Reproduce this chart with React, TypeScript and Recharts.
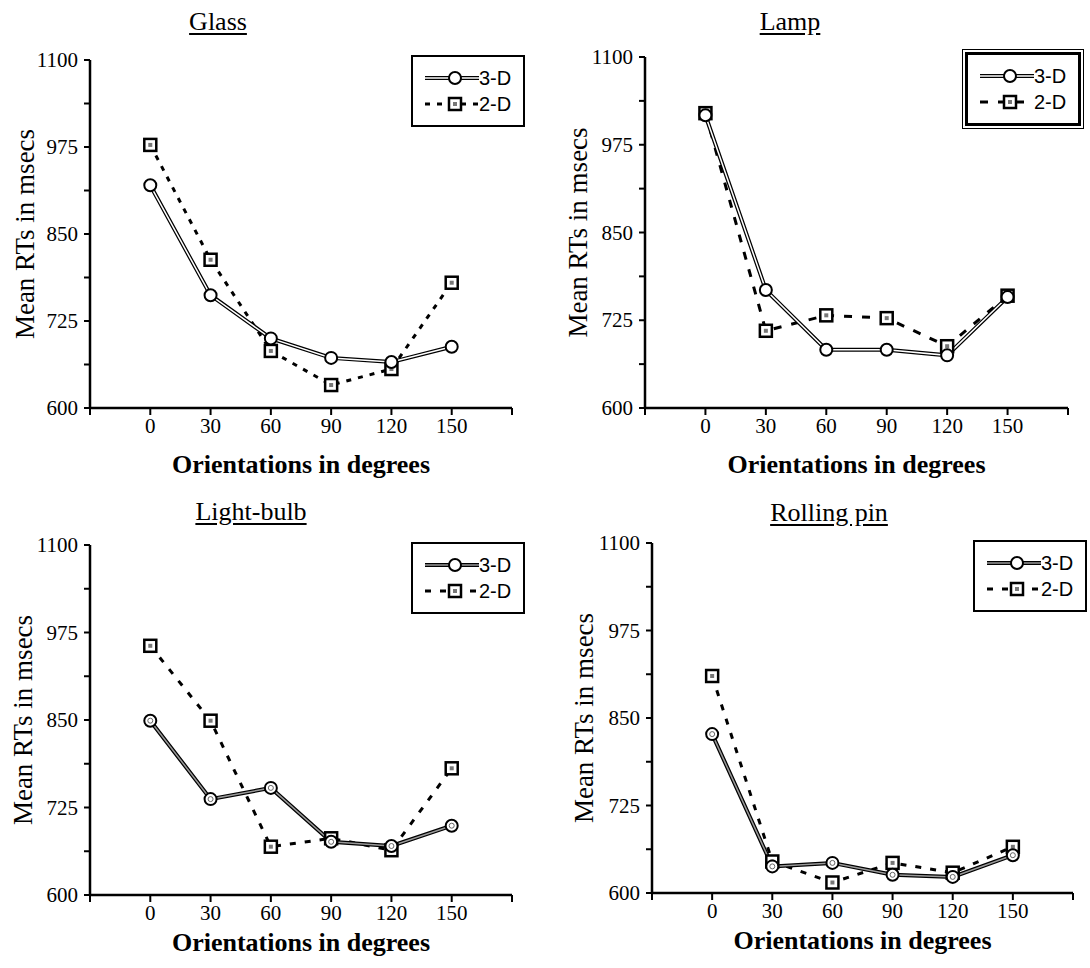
import React from "react";
import { LineChart, Line, XAxis, YAxis, Legend } from "recharts";

// orientation (degrees) on the x axis
const angles = [0, 30, 60, 90, 120, 150];

// mean RTs (msecs)
const glass3D = [920, 762, 700, 672, 666, 688];
const glass2D = [978, 813, 682, 633, 656, 780];
const lamp3D = [1017, 768, 683, 683, 675, 758];
const lamp2D = [1020, 710, 732, 728, 688, 760];
const bulb3D = [849, 737, 753, 676, 670, 699];
const bulb2D = [956, 849, 669, 681, 664, 781];
const pin3D = [827, 638, 643, 626, 623, 654];
const pin2D = [910, 645, 615, 643, 629, 666];

const yTicks = [600, 662.5, 725, 787.5, 850, 912.5, 975, 1037.5, 1100];
const yLabels = [600, 725, 850, 975, 1100];
const xTicks = [-30, 0, 30, 60, 90, 120, 150, 180];

const SERIF = "'Liberation Serif', 'Times New Roman', serif";
const SANS = "'Liberation Sans', Arial, sans-serif";

function rows(a: number[], b: number[]) {
  return angles.map((x, i) => ({ angle: x, d3: a[i], d2: b[i] }));
}

function XTick({ x, y, payload }: any) {
  const v = payload.value;
  if (v < 0 || v > 150) return null;
  return (
    <text x={x} y={y + 16} textAnchor="middle" style={{ fontFamily: SERIF, fontSize: 21, fill: "#000" }}>
      {v}
    </text>
  );
}

function YTick({ x, y, payload }: any) {
  const v = payload.value;
  if (!yLabels.includes(v)) return null;
  return (
    <text x={x} y={y + 7} textAnchor="end" style={{ fontFamily: SERIF, fontSize: 21, fill: "#000" }}>
      {v}
    </text>
  );
}

function CircleDot(props: any) {
  const { cx, cy, index, inner } = props;
  if (cx == null || cy == null) return null;
  return (
    <g key={"c" + index}>
      <circle cx={cx} cy={cy} r={6} fill="#fff" stroke="#000" strokeWidth={2} />
      {inner && <circle cx={cx} cy={cy} r={2.5} fill="none" stroke="#666" strokeWidth={1} />}
    </g>
  );
}

function SquareDot(props: any) {
  const { cx, cy, index } = props;
  if (cx == null || cy == null) return null;
  return (
    <g key={"s" + index}>
      <rect x={cx - 6} y={cy - 6} width={12} height={12} fill="#fff" stroke="#000" strokeWidth={2.5} />
      <rect x={cx - 2} y={cy - 2} width={4} height={4} fill="#777" />
    </g>
  );
}

function LegendBox({ dash, inner, double }: { dash: string; inner: string; double?: boolean }) {
  const row = { display: "flex", alignItems: "center", height: 26 } as const;
  return (
    <div
      style={{
        border: double ? "3px solid #000" : "2px solid #000",
        outline: double ? "1px solid #000" : undefined,
        outlineOffset: double ? 2 : undefined,
        background: "#fff",
        padding: "8px 12px 8px 12px",
        fontFamily: SANS,
        fontSize: 20,
        color: "#000",
        lineHeight: 1,
      }}
    >
      <div style={row}>
        <svg width={54} height={16}>
          <line x1={0} y1={8} x2={54} y2={8} stroke="#000" strokeWidth={4} />
          <line x1={0} y1={8} x2={54} y2={8} stroke={inner} strokeWidth={1.5} />
          <circle cx={30} cy={8} r={6} fill="#fff" stroke="#000" strokeWidth={2} />
        </svg>
        <span>3-D</span>
      </div>
      <div style={row}>
        <svg width={54} height={16}>
          <line x1={0} y1={8} x2={54} y2={8} stroke="#000" strokeWidth={3} strokeDasharray={dash} />
          <rect x={24} y={2} width={12} height={12} fill="#fff" stroke="#000" strokeWidth={2.5} />
          <rect x={28} y={6} width={4} height={4} fill="#777" />
        </svg>
        <span>2-D</span>
      </div>
    </div>
  );
}

type PanelProps = {
  title: string;
  d3: number[];
  d2: number[];
  left: number;
  top: number;
  yWidth: number;
  plotTop: number;
  xHeight: number;
  right: number;
  yLabelX: number;
  xLabelOffset: number;
  titleX: number;
  titleY: number;
  legendX: number;
  legendY: number;
  dash: string;
  inner: string;
  double?: boolean;
};

function Panel(p: PanelProps) {
  const data = rows(p.d3, p.d2);
  return (
    <div style={{ position: "absolute", left: p.left, top: p.top, width: 545, height: 484 }}>
      <div
        style={{
          position: "absolute",
          left: p.titleX - 100,
          width: 200,
          top: p.titleY - 15,
          textAlign: "center",
          fontFamily: SERIF,
          fontSize: 26,
          textDecoration: "underline",
          textUnderlineOffset: 3,
          lineHeight: "30px",
          color: "#000",
        }}
      >
        {p.title}
      </div>
      <LineChart
        width={545}
        height={484}
        data={data}
        margin={{ top: p.plotTop, right: p.right, left: 0, bottom: 0 }}
      >
        <XAxis
          dataKey="angle"
          type="number"
          domain={[-30, 180]}
          ticks={xTicks}
          interval={0}
          height={p.xHeight}
          tick={<XTick />}
          tickSize={7}
          axisLine={{ stroke: "#000", strokeWidth: 2.5 }}
          tickLine={{ stroke: "#000", strokeWidth: 2 }}
          label={(lp: any) => {
            const vb = lp.viewBox;
            return (
              <text
                x={vb.x + vb.width / 2}
                y={vb.y + p.xLabelOffset}
                textAnchor="middle"
                style={{ fontFamily: SERIF, fontSize: 26, fontWeight: 700, fill: "#000" }}
              >
                Orientations in degrees
              </text>
            );
          }}
        />
        <YAxis
          type="number"
          domain={[600, 1100]}
          ticks={yTicks}
          interval={0}
          width={p.yWidth}
          tick={<YTick />}
          tickSize={6}
          tickMargin={6}
          axisLine={{ stroke: "#000", strokeWidth: 2.5 }}
          tickLine={{ stroke: "#000", strokeWidth: 2 }}
          label={(lp: any) => {
            const vb = lp.viewBox;
            const cy = vb.y + vb.height / 2;
            const cx = vb.x + p.yLabelX;
            return (
              <text
                x={cx}
                y={cy}
                dy={9}
                textAnchor="middle"
                transform={`rotate(-90 ${cx} ${cy})`}
                style={{ fontFamily: SERIF, fontSize: 27, fill: "#000" }}
              >
                Mean RTs in msecs
              </text>
            );
          }}
        />
        <Legend
          layout="vertical"
          align="center"
          verticalAlign="middle"
          wrapperStyle={{ left: p.legendX, top: p.legendY, width: "auto" }}
          content={() => <LegendBox dash={p.dash} inner={p.inner} double={p.double} />}
        />
        <Line
          dataKey="d2"
          stroke="#000"
          strokeWidth={3}
          strokeDasharray={p.dash}
          dot={(d: any) => <SquareDot {...d} />}
          isAnimationActive={false}
        />
        <Line dataKey="d3" stroke="#000" strokeWidth={4} dot={false} isAnimationActive={false} legendType="none" />
        <Line
          dataKey="d3"
          stroke={p.inner}
          strokeWidth={1.5}
          dot={(d: any) => <CircleDot {...d} inner={p.inner !== "#fff"} />}
          isAnimationActive={false}
        />
      </LineChart>
    </div>
  );
}

export default function App() {
  return (
    <div
      style={{
        position: "absolute",
        left: 0,
        top: 0,
        width: 1090,
        height: 968,
        overflow: "hidden",
        background: "#fff",
      }}
    >
      <Panel
        title="Glass"
        d3={glass3D}
        d2={glass2D}
        left={0}
        top={0}
        yWidth={90}
        plotTop={60}
        xHeight={76}
        right={33}
        yLabelX={25}
        xLabelOffset={65}
        titleX={218}
        titleY={22}
        legendX={411}
        legendY={55}
        dash="5 7"
        inner="#fff"
      />
      <Panel
        title="Lamp"
        d3={lamp3D}
        d2={lamp2D}
        left={545}
        top={0}
        yWidth={100}
        plotTop={57}
        xHeight={76}
        right={22}
        yLabelX={33}
        xLabelOffset={65}
        titleX={245}
        titleY={22}
        legendX={420}
        legendY={52}
        dash="8 10"
        inner="#fff"
        double
      />
      <Panel
        title="Light-bulb"
        d3={bulb3D}
        d2={bulb2D}
        left={0}
        top={484}
        yWidth={90}
        plotTop={61}
        xHeight={73}
        right={33}
        yLabelX={23}
        xLabelOffset={56}
        titleX={251}
        titleY={28}
        legendX={411}
        legendY={58}
        dash="6 9"
        inner="#999"
      />
      <Panel
        title="Rolling pin"
        d3={pin3D}
        d2={pin2D}
        left={545}
        top={484}
        yWidth={107}
        plotTop={59}
        xHeight={75}
        right={17}
        yLabelX={39}
        xLabelOffset={56}
        titleX={284}
        titleY={29}
        legendX={428}
        legendY={56}
        dash="6 9"
        inner="#999"
      />
    </div>
  );
}
